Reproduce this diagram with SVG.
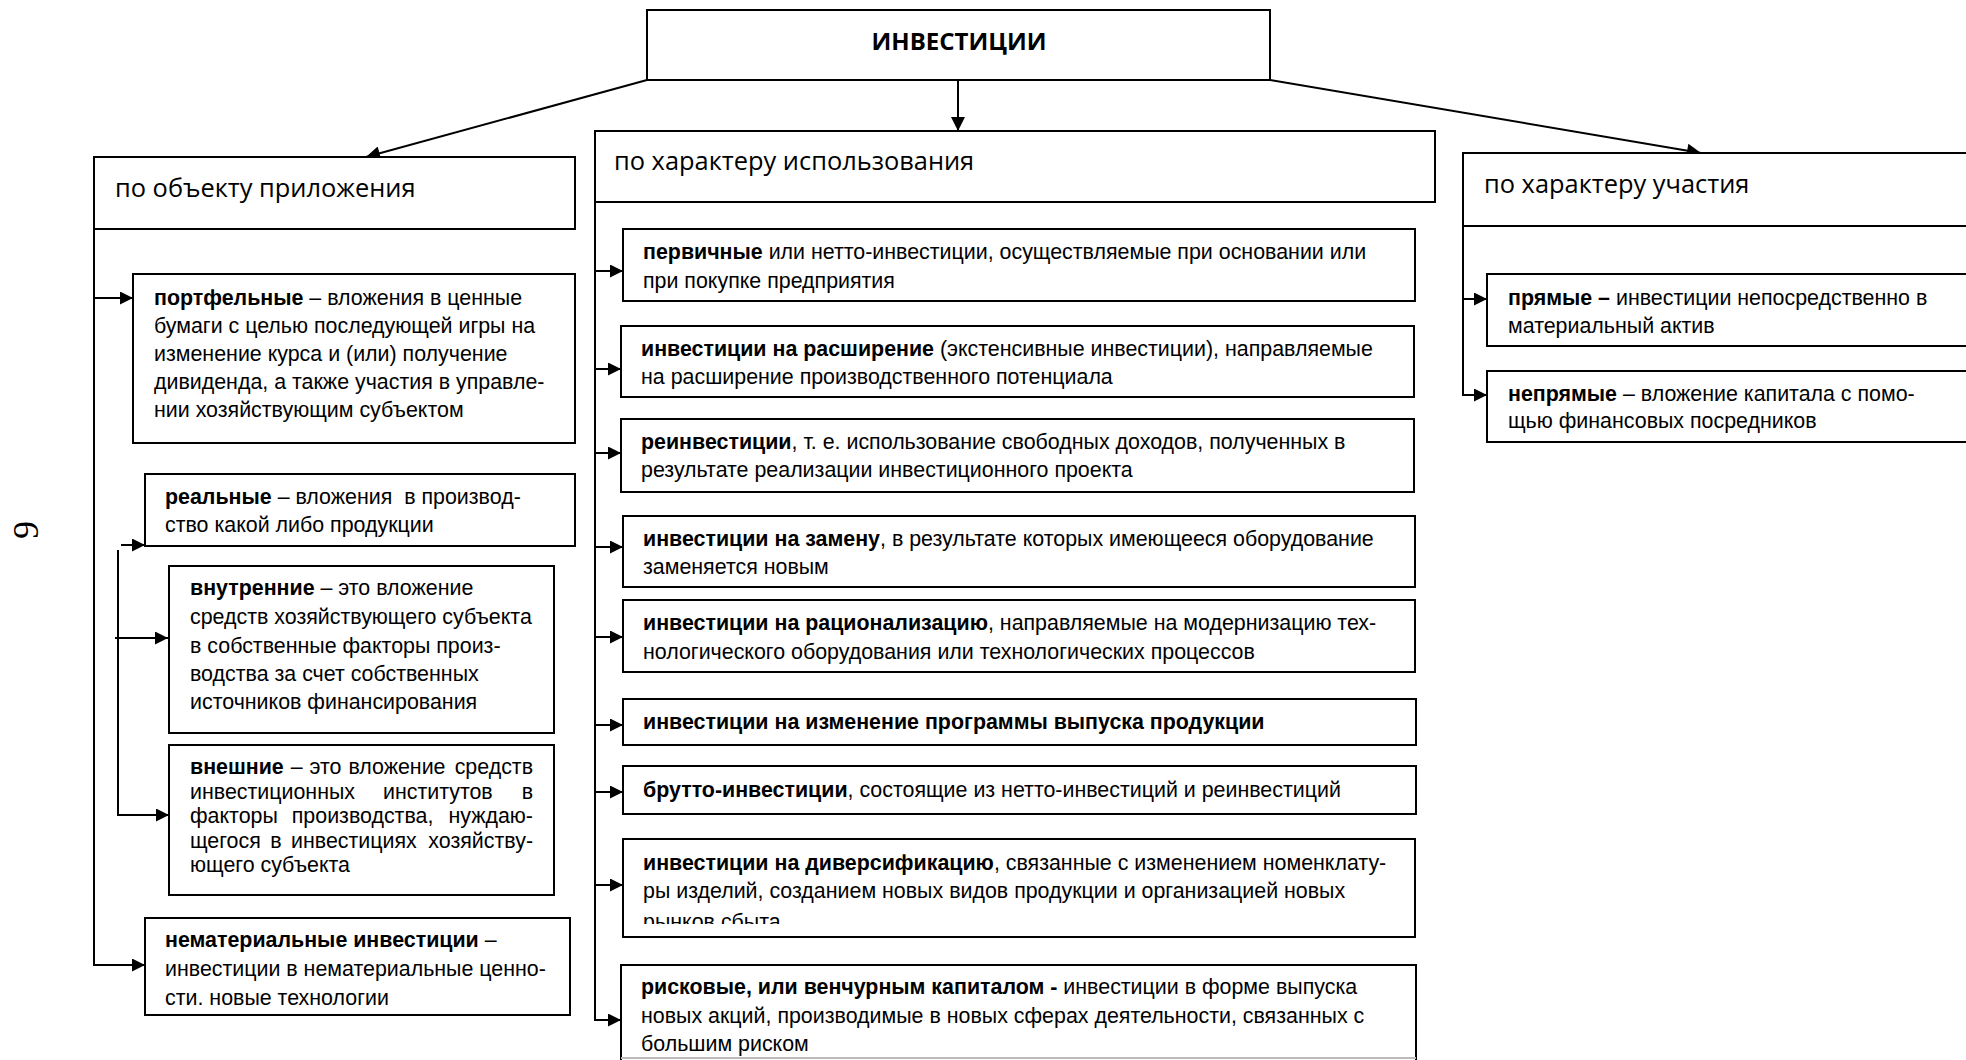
<svg xmlns="http://www.w3.org/2000/svg" width="1966" height="1060" viewBox="0 0 1966 1060">
  <defs>
    <style>
      .box { fill: #fff; stroke: #000; stroke-width: 2; }
      .hdr { font-family: "Open Sans", "Noto Sans", sans-serif; font-size: 25.4px; fill: #000; }
      .ttl { font-family: "Open Sans", "Noto Sans", sans-serif; font-size: 24px; font-weight: bold; fill: #000; }
      .t { font-family: "Liberation Sans", Arial, sans-serif; font-size: 21.4px; fill: #000; }
      .b { font-weight: bold; }
      .ln { fill: none; stroke: #000; stroke-width: 2; }
      .pg { font-family: "Liberation Serif", "Times New Roman", serif; font-size: 36px; fill: #000; }
    </style>
    <marker id="ah" viewBox="0 0 10 10" refX="10" refY="5" markerWidth="15" markerHeight="13" markerUnits="userSpaceOnUse" orient="auto">
      <path d="M0,0 L10,5 L0,10 z" fill="#000"/>
    </marker>
    <marker id="ahBig" viewBox="0 0 10 10" refX="10" refY="5" markerWidth="18" markerHeight="14" markerUnits="userSpaceOnUse" orient="auto">
      <path d="M0,0 L10,5 L0,10 z" fill="#000"/>
    </marker>
    <clipPath id="clipDiv"><rect x="600" y="830" width="830" height="94"/></clipPath>
    <clipPath id="clipRisk"><rect x="600" y="960" width="830" height="97"/></clipPath>
  </defs>

  <rect width="1966" height="1060" fill="#fff"/>

  <!-- page number -->
  <text class="pg" transform="translate(38,530) rotate(-90)" text-anchor="middle">9</text>

  <!-- connectors -->
  <g id="connectors">
    <!-- from the root -->
    <path class="ln" d="M647,80 L366,157" marker-end="url(#ahBig)"/>
    <path class="ln" d="M958,80 L958,131" marker-end="url(#ahBig)"/>
    <path class="ln" d="M1270,80 L1701,153" marker-end="url(#ahBig)"/>

    <!-- left branch -->
    <path class="ln" d="M94,229 V966"/>
    <path class="ln" d="M94,298 H133" marker-end="url(#ah)"/>
    <path class="ln" d="M94,965 H145" marker-end="url(#ah)"/>
    <path class="ln" d="M118,550 V816"/>
    <path class="ln" d="M121,545 H145" marker-end="url(#ah)"/>
    <path class="ln" d="M115,638 H168" marker-end="url(#ah)"/>
    <path class="ln" d="M118,815 H169" marker-end="url(#ah)"/>

    <!-- middle branch -->
    <path class="ln" d="M595,202 V1021"/>
    <path class="ln" d="M595,271 H623" marker-end="url(#ah)"/>
    <path class="ln" d="M595,369 H621" marker-end="url(#ah)"/>
    <path class="ln" d="M595,453 H621" marker-end="url(#ah)"/>
    <path class="ln" d="M595,547 H623" marker-end="url(#ah)"/>
    <path class="ln" d="M595,637 H623" marker-end="url(#ah)"/>
    <path class="ln" d="M595,725 H623" marker-end="url(#ah)"/>
    <path class="ln" d="M595,792 H623" marker-end="url(#ah)"/>
    <path class="ln" d="M595,885 H623" marker-end="url(#ah)"/>
    <path class="ln" d="M595,1020 H621" marker-end="url(#ah)"/>

    <!-- right branch -->
    <path class="ln" d="M1463,226 V396"/>
    <path class="ln" d="M1463,299 H1487" marker-end="url(#ah)"/>
    <path class="ln" d="M1463,395 H1487" marker-end="url(#ah)"/>
  </g>

  <!-- root -->
  <g id="root">
    <rect class="box" x="647" y="10" width="623" height="70"/>
    <text class="ttl" x="959" y="50" text-anchor="middle">ИНВЕСТИЦИИ</text>
  </g>

  <!-- category headers -->
  <g id="cat-object">
    <rect class="box" x="94" y="157" width="481" height="72"/>
    <text class="hdr" x="115" y="197">по объекту приложения</text>
  </g>
  <g id="cat-usage">
    <rect class="box" x="595" y="131" width="840" height="71"/>
    <text class="hdr" x="614" y="170">по характеру использования</text>
  </g>
  <g id="cat-participation">
    <rect class="box" x="1463" y="153" width="520" height="73"/>
    <text class="hdr" x="1484" y="193">по характеру участия</text>
  </g>

  <!-- left column -->
  <g id="portfolio">
    <rect class="box" x="133" y="274" width="442" height="169"/>
    <text class="t" x="154" y="305"><tspan class="b">портфельные</tspan> – вложения в ценные</text>
    <text class="t" x="154" y="333">бумаги с целью последующей игры на</text>
    <text class="t" x="154" y="361">изменение курса и (или) получение</text>
    <text class="t" x="154" y="389">дивиденда, а также участия в управле-</text>
    <text class="t" x="154" y="417">нии хозяйствующим субъектом</text>
  </g>
  <g id="real">
    <rect class="box" x="145" y="474" width="430" height="72"/>
    <text class="t" x="165" y="504" xml:space="preserve"><tspan class="b">реальные</tspan> – вложения  в производ-</text>
    <text class="t" x="165" y="532">ство какой либо продукции</text>
  </g>
  <g id="internal">
    <rect class="box" x="169" y="566" width="385" height="167"/>
    <text class="t" x="190" y="595"><tspan class="b">внутренние</tspan> – это вложение</text>
    <text class="t" x="190" y="624">средств хозяйствующего субъекта</text>
    <text class="t" x="190" y="653">в собственные факторы произ-</text>
    <text class="t" x="190" y="681">водства за счет собственных</text>
    <text class="t" x="190" y="709">источников финансирования</text>
  </g>
  <g id="external">
    <rect class="box" x="169" y="745" width="385" height="150"/>
    <!-- justified lines: widened word gaps, last word set flush right -->
    <text class="t" y="774"><tspan x="190" word-spacing="1"><tspan class="b">внешние</tspan> – это вложение</tspan><tspan x="533" text-anchor="end">средств</tspan></text>
    <text class="t" y="799"><tspan x="190" word-spacing="22">инвестиционных институтов</tspan><tspan x="533" text-anchor="end">в</tspan></text>
    <text class="t" y="823"><tspan x="190" word-spacing="8">факторы производства,</tspan><tspan x="533" text-anchor="end">нуждаю-</tspan></text>
    <text class="t" y="848"><tspan x="190" word-spacing="3.5">щегося в инвестициях</tspan><tspan x="533" text-anchor="end">хозяйству-</tspan></text>
    <text class="t" x="190" y="872">ющего субъекта</text>
  </g>
  <g id="intangible">
    <rect class="box" x="145" y="918" width="425" height="97"/>
    <text class="t" x="165" y="947"><tspan class="b">нематериальные инвестиции</tspan> –</text>
    <text class="t" x="165" y="976">инвестиции в нематериальные ценно-</text>
    <text class="t" x="165" y="1005">сти. новые технологии</text>
  </g>

  <!-- middle column -->
  <g id="primary">
    <rect class="box" x="623" y="229" width="792" height="72"/>
    <text class="t" x="643" y="259"><tspan class="b">первичные</tspan> или нетто-инвестиции, осуществляемые при основании или</text>
    <text class="t" x="643" y="288">при покупке предприятия</text>
  </g>
  <g id="expansion">
    <rect class="box" x="621" y="326" width="793" height="71"/>
    <text class="t" x="641" y="356"><tspan class="b">инвестиции на расширение</tspan> (экстенсивные инвестиции), направляемые</text>
    <text class="t" x="641" y="384">на расширение производственного потенциала</text>
  </g>
  <g id="reinvest">
    <rect class="box" x="621" y="419" width="793" height="73"/>
    <text class="t" x="641" y="449"><tspan class="b">реинвестиции</tspan>, т. е. использование свободных доходов, полученных в</text>
    <text class="t" x="641" y="477">результате реализации инвестиционного проекта</text>
  </g>
  <g id="replacement">
    <rect class="box" x="623" y="516" width="792" height="71"/>
    <text class="t" x="643" y="546"><tspan class="b">инвестиции на замену</tspan>, в результате которых имеющееся оборудование</text>
    <text class="t" x="643" y="574">заменяется новым</text>
  </g>
  <g id="rationalization">
    <rect class="box" x="623" y="600" width="792" height="72"/>
    <text class="t" x="643" y="630"><tspan class="b">инвестиции на рационализацию</tspan>, направляемые на модернизацию тех-</text>
    <text class="t" x="643" y="659">нологического оборудования или технологических процессов</text>
  </g>
  <g id="program">
    <rect class="box" x="623" y="699" width="793" height="46"/>
    <text class="t b" x="643" y="729">инвестиции на изменение программы выпуска продукции</text>
  </g>
  <g id="gross">
    <rect class="box" x="623" y="766" width="793" height="48"/>
    <text class="t" x="643" y="797"><tspan class="b">брутто-инвестиции</tspan>, состоящие из нетто-инвестиций и реинвестиций</text>
  </g>
  <g id="diversification">
    <rect class="box" x="623" y="839" width="792" height="98"/>
    <g clip-path="url(#clipDiv)">
      <text class="t" x="643" y="870"><tspan class="b">инвестиции на диверсификацию</tspan>, связанные с изменением номенклату-</text>
      <text class="t" x="643" y="898">ры изделий, созданием новых видов продукции и организацией новых</text>
      <text class="t" x="643" y="929">рынков сбыта</text>
    </g>
  </g>
  <g id="venture">
    <path class="ln" d="M621,1060 V965 H1416 V1060"/>
    <path d="M621,1058 H1416" stroke="#bbb" stroke-width="2" fill="none"/>
    <g clip-path="url(#clipRisk)">
      <text class="t" x="641" y="994"><tspan class="b">рисковые, или венчурным капиталом -</tspan> инвестиции в форме выпуска</text>
      <text class="t" x="641" y="1023">новых акций, производимые в новых сферах деятельности, связанных с</text>
      <text class="t" x="641" y="1051">большим риском</text>
    </g>
  </g>

  <!-- right column -->
  <g id="direct">
    <rect class="box" x="1487" y="274" width="496" height="72"/>
    <text class="t" x="1508" y="305"><tspan class="b">прямые –</tspan> инвестиции непосредственно в</text>
    <text class="t" x="1508" y="333">материальный актив</text>
  </g>
  <g id="indirect">
    <rect class="box" x="1487" y="371" width="496" height="71"/>
    <text class="t" x="1508" y="401"><tspan class="b">непрямые</tspan> – вложение капитала с помо-</text>
    <text class="t" x="1508" y="428">щью финансовых посредников</text>
  </g>
</svg>
